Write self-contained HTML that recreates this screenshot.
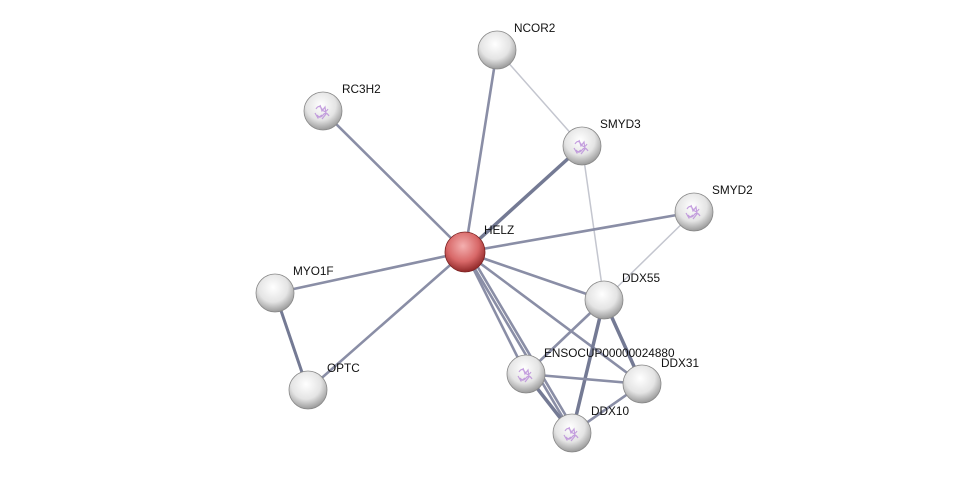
<!DOCTYPE html>
<html><head><meta charset="utf-8"><style>
html,body{margin:0;padding:0;background:#fff;}
svg{display:block;}
text{font-family:"Liberation Sans",sans-serif;font-size:11.8px;fill:#111;}
</style></head><body>
<svg width="976" height="479" viewBox="0 0 976 479" xmlns="http://www.w3.org/2000/svg">
<defs>
<radialGradient id="g" cx="45%" cy="35%" r="65%">
<stop offset="0" stop-color="#ffffff"/><stop offset="0.6" stop-color="#e4e4e4"/><stop offset="1" stop-color="#9a9a9a"/>
</radialGradient>
<radialGradient id="r" cx="45%" cy="35%" r="65%">
<stop offset="0" stop-color="#f4b0b0"/><stop offset="0.6" stop-color="#d86868"/><stop offset="1" stop-color="#902828"/>
</radialGradient>
<g id="p" fill="none" stroke="#b88ad8" stroke-width="1.2" opacity="0.8">
<path d="M-7,-4 q3,-5 6,0 t6,0 M-6,2 q3,4 6,0 t6,1 M-3,-8 l2,6 l3,-4 l1,7 l-4,5 M-8,0 l3,5 l4,-3"/>
</g>
</defs>
<g stroke-linecap="round">
<g stroke="#c4c6cf" stroke-width="1.5">
<line x1="497" y1="50" x2="582" y2="146"/>
<line x1="582" y1="146" x2="604" y2="300"/>
<line x1="694" y1="212" x2="604" y2="300"/>
</g>
<g stroke="#8a8ea6" stroke-width="2.6">
<line x1="465" y1="252" x2="497" y2="50"/>
<line x1="465" y1="252" x2="323" y2="111"/>
<line x1="465" y1="252" x2="582" y2="146" stroke-width="3.5" stroke="#747a94"/>
<line x1="465" y1="252" x2="694" y2="212"/>
<line x1="465" y1="252" x2="275" y2="293"/>
<line x1="465" y1="252" x2="308" y2="390"/>
<line x1="465" y1="252" x2="604" y2="300"/>
<line x1="465" y1="252" x2="642" y2="384"/>
<line x1="465" y1="252" x2="526" y2="374"/>
<line x1="465" y1="252" x2="572" y2="433"/>
<line x1="470" y1="254" x2="575" y2="431"/>
<line x1="275" y1="293" x2="308" y2="390" stroke-width="3" stroke="#747a94"/>
<line x1="604" y1="300" x2="526" y2="374"/>
<line x1="604" y1="300" x2="642" y2="384" stroke-width="3.5" stroke="#747a94"/>
<line x1="604" y1="300" x2="572" y2="433" stroke-width="3.5" stroke="#747a94"/>
<line x1="526" y1="374" x2="642" y2="384"/>
<line x1="526" y1="374" x2="572" y2="433" stroke-width="3.5" stroke="#747a94"/>
<line x1="642" y1="384" x2="572" y2="433"/>
</g>
</g>
<g stroke="#888" stroke-width="0.8">
<circle cx="497" cy="50" r="19" fill="url(#g)"/>
<circle cx="323" cy="111" r="19" fill="url(#g)"/>
<circle cx="582" cy="146" r="19" fill="url(#g)"/>
<circle cx="694" cy="212" r="19" fill="url(#g)"/>
<circle cx="275" cy="293" r="19" fill="url(#g)"/>
<circle cx="604" cy="300" r="19" fill="url(#g)"/>
<circle cx="526" cy="374" r="19" fill="url(#g)"/>
<circle cx="642" cy="384" r="19" fill="url(#g)"/>
<circle cx="308" cy="390" r="19" fill="url(#g)"/>
<circle cx="572" cy="433" r="19" fill="url(#g)"/>
<circle cx="465" cy="252" r="20" fill="url(#r)" stroke="#7a2020"/>
</g>
<use href="#p" x="323" y="113"/><use href="#p" x="582" y="148"/><use href="#p" x="694" y="213"/>
<use href="#p" x="526" y="376"/><use href="#p" x="572" y="435"/>
<text x="514" y="32">NCOR2</text>
<text x="342" y="93">RC3H2</text>
<text x="600" y="128">SMYD3</text>
<text x="712" y="194">SMYD2</text>
<text x="484" y="234">HELZ</text>
<text x="293" y="275">MYO1F</text>
<text x="622" y="282">DDX55</text>
<text x="544" y="357">ENSOCUP00000024880</text>
<text x="661" y="367">DDX31</text>
<text x="327" y="372">OPTC</text>
<text x="591" y="415">DDX10</text>
</svg>
</body></html>
